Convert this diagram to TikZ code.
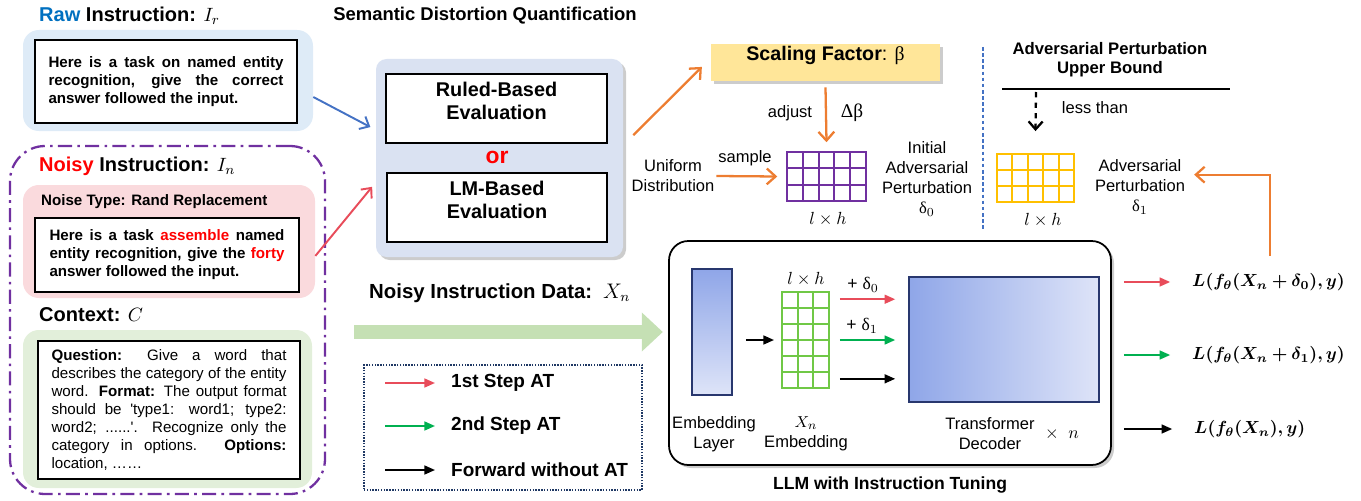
\documentclass[tikz,border=0pt]{standalone}
\usepackage{fontspec}
\setmainfont{Liberation Sans}
\newfontfamily\greekserif{Liberation Serif}
\usepackage{bm}
\usetikzlibrary{arrows.meta,fit,positioning}

\definecolor{rawblue}{RGB}{0,112,192}
\definecolor{noisyred}{RGB}{255,0,0}
\definecolor{purpleline}{RGB}{112,48,160}
\definecolor{rawfill}{RGB}{222,235,247}
\definecolor{noisyfill}{RGB}{250,218,221}
\definecolor{ctxfill}{RGB}{226,239,218}
\definecolor{evalfill}{RGB}{218,226,242}
\definecolor{scalefill}{RGB}{255,230,153}
\definecolor{orangeline}{RGB}{237,125,49}
\definecolor{gridyellow}{RGB}{255,192,0}
\definecolor{gridgreen}{RGB}{112,200,70}
\definecolor{atred}{RGB}{232,76,90}
\definecolor{atgreen}{RGB}{0,176,80}
\definecolor{datagreen}{RGB}{197,224,180}
\definecolor{legendblue}{RGB}{31,56,100}
\definecolor{sepblue}{RGB}{68,114,196}
\definecolor{layerdark}{RGB}{143,166,232}
\definecolor{layerlight}{RGB}{222,228,248}
\definecolor{layerborder}{RGB}{40,55,110}

\begin{document}
\begin{tikzpicture}[x=0.02cm, y=-0.02cm,
  bg/.style={inner sep=0pt, rounded corners=9pt},
  textbox/.style={draw, fill=white, line width=1.5pt, inner sep=0pt, text width=4.7cm, align=justify,
                  execute at begin node={\hyphenpenalty=10000}},
  head/.style={anchor=west, font=\fontsize{11.4}{13}\selectfont\bfseries},
  txt/.style={align=center, inner sep=1pt, font=\fontsize{9.4}{11.3}\selectfont},
  evalbox/.style={draw, fill=white, line width=1.5pt, inner sep=0pt, align=center, font=\fontsize{11.3}{13}\selectfont\bfseries},
  orangearrow/.style={draw=orangeline, line width=1.3pt, -{Straight Barb[length=5pt,width=9pt]}},
  inarrow/.style={line width=1.1pt, -{Straight Barb[length=4.5pt,width=8pt]}},
  atarrow/.style={line width=1.1pt, -{Triangle[length=6pt,width=5pt]}},
  shadowfill/.style={fill=black, opacity=0.2, inner sep=0pt},
  gridline/.style={line width=1.1pt},
  legendtxt/.style={anchor=west, font=\fontsize{10.8}{12}\selectfont\bfseries},
  loss/.style={anchor=west, font=\fontsize{10.3}{12}\selectfont}
]
\useasboundingbox (0,0) rectangle (1361,500);

  % Raw instruction
  \node[head] (rawtitle) at (33,16) {\textcolor{rawblue}{Raw} Instruction: $I_r$};
  \node[bg, fill=rawfill, fit={(23,30) (313,131)}] (rawbg) {};
  \node[textbox, minimum width=5.24cm, minimum height=1.66cm, font=\fontsize{8.6}{10.2}\selectfont\bfseries] (rawtext) at (166,81.5)
    {Here is a task on named entity\linebreak recognition, give the correct\linebreak answer followed the input.};

  % Noisy instruction and context
  \node[bg, draw=purpleline, line width=1.3pt, rounded corners=20pt,
        dash pattern=on 8pt off 3pt on 1.5pt off 3pt, fit={(10,146) (325,494)}] (noisyframe) {};
  \node[head] (noisytitle) at (33,166) {\textcolor{noisyred}{Noisy} Instruction: $I_n$};
  \node[bg, fill=noisyfill, fit={(23,185) (315,298)}] (noisybg) {};
  \node[anchor=west, font=\fontsize{8.6}{10}\selectfont\bfseries] (noisetype) at (35,202) {Noise Type: Rand Replacement};
  \node[textbox, minimum width=5.28cm, minimum height=1.48cm, font=\fontsize{8.6}{10.2}\selectfont\bfseries] (noisytext) at (167,255)
    {Here is a task \textcolor{noisyred}{assemble} named\linebreak entity recognition, give the \textcolor{noisyred}{forty}\linebreak answer followed the input.};

  \node[head] (ctxtitle) at (33,315) {Context: $C$};
  \node[bg, fill=ctxfill, fit={(23,330) (312,488)}] (ctxbg) {};
  \node[textbox, minimum width=5.24cm, minimum height=2.76cm, font=\fontsize{8.6}{10.2}\selectfont] (ctxtext) at (169,410)
    {\textbf{Question:} Give a word that\linebreak describes the category of the entity\linebreak word. \textbf{Format:} The output format\linebreak should be \textquotesingle type1: word1; type2:\linebreak word2; ......\textquotesingle. Recognize only the\linebreak category in options. \textbf{Options:}\linebreak location, ……};

  % Semantic distortion quantification
  \node[font=\fontsize{10.5}{12}\selectfont\bfseries] (sdqtitle) at (485,16) {Semantic Distortion Quantification};
  \node[shadowfill, rounded corners=6pt, fit={(379,62) (626,260)}] (evalshadow) {};
  \node[bg, fill=evalfill, rounded corners=6pt, fit={(376,59) (623,257)}] (eval) {};
  \node[evalbox, fit={(386,74) (607,143)}] (rulebox) {Ruled-Based\\Evaluation};
  \node[font=\fontsize{13}{14}\selectfont\bfseries, text=noisyred] (or) at (497,157) {or};
  \node[evalbox, fit={(387,173) (607,242)}] (lmbox) {LM-Based\\Evaluation};

  \draw[inarrow, sepblue] ([yshift=-9.4pt]rawbg.east) -- ([xshift=-3pt, yshift=17.6pt]eval.west);
  \draw[inarrow, atred] ([yshift=-8.2pt]noisybg.east) -- ([xshift=-2pt, yshift=-16.4pt]eval.west);

  % Scaling factor and initial perturbation
  \node[shadowfill, fit={(714,47) (943,84)}] (scaleshadow) {};
  \node[inner sep=0pt, fill=scalefill, fit={(711,44) (940,81)},
        font=\fontsize{11.2}{13}\selectfont] (scale) {\textbf{Scaling Factor}: {\greekserif β}};
  \draw[orangearrow] ([xshift=5.7pt, yshift=13pt]eval.east) -- ([xshift=-5pt, yshift=-2.5pt]scale.west);

  \node[draw=purpleline, gridline, inner sep=0pt, fit={(787,152) (866,201)}] (delta0) {};
  \foreach \i in {1,...,4}
    \draw[purpleline, gridline] (787+\i*15.8,152) -- (787+\i*15.8,201);
  \foreach \j in {1,2}
    \draw[purpleline, gridline] (787,152+\j*16.33) -- (866,152+\j*16.33);
  \node[font=\fontsize{10}{12}\selectfont] (dimA) at (828,219) {$l\times h$};

  \draw[orangearrow] ([yshift=-3.4pt]scale.south) -- ([yshift=5pt]delta0.north);
  \node[txt] (adjust) at (790,113) {adjust};
  \node[txt, font=\fontsize{11}{13}\selectfont] (dbeta) at (852,113) {{\greekserif Δβ}};

  \node[txt] (uniform) at (673,176) {Uniform\\Distribution};
  \node[txt] (sample) at (745,158) {sample};
  \draw[orangearrow] (uniform.east) -- ([xshift=-5pt]delta0.west);
  \node[txt] (delta0label) at (927,179) {Initial\\Adversarial\\Perturbation\\{\greekserif δ}$_0$};

  \draw[sepblue, line width=0.8pt, dash pattern=on 2pt off 1.5pt] (983,47) -- (983,230);

  % Upper bound and second perturbation
  \node[font=\fontsize{9.5}{11}\selectfont\bfseries, align=center] (boundtitle) at (1110,60) {Adversarial Perturbation\\Upper Bound};
  \draw[line width=1.3pt] (1002,89) -- (1230,89);
  \coordinate (boundarrow) at (1036,92);
  \node[draw=gridyellow, gridline, inner sep=0pt, fit={(997,154) (1074,202)}] (delta1) {};
  \foreach \i in {1,...,4}
    \draw[gridyellow, gridline] (997+\i*15.4,154) -- (997+\i*15.4,202);
  \foreach \j in {1,2}
    \draw[gridyellow, gridline] (997,154+\j*16) -- (1074,154+\j*16);
  \node[font=\fontsize{10}{12}\selectfont] (dimB) at (1043,220) {$l\times h$};
  \draw[line width=1.3pt, dashed, -{Straight Barb[length=4.5pt,width=8pt]}] (boundarrow) -- ([yshift=12.5pt]delta1.north);
  \node[txt] (lessthan) at (1095,108) {less than};
  \node[txt] (delta1label) at (1140,187) {Adversarial\\Perturbation\\{\greekserif δ}$_1$};

  % Noisy instruction data
  \node[head, font=\fontsize{11.6}{13}\selectfont\bfseries] (datatitle) at (363,293) {Noisy Instruction Data: \,$X_n$};
  \coordinate (datastart) at (354,332);

  % LLM with instruction tuning
  \node[shadowfill, rounded corners=11pt, fit={(672,244) (1114,468)}] (llmshadow) {};
  \node[draw, line width=1pt, fill=white, rounded corners=11pt, inner sep=0pt, fit={(669,241) (1111,465)}] (llm) {};
  \draw[datagreen, line width=8.5pt, shorten >=3pt, -{Triangle[length=12pt,width=21.5pt]}] (datastart) -- (llm.west |- datastart);

  \node[draw=layerborder, line width=0.9pt, top color=layerdark, bottom color=layerlight, inner sep=0pt, fit={(692,269) (732,395)}] (emblayer) {};
  \node[draw=gridgreen, gridline, inner sep=0pt, fit={(782,292) (829,388)}] (xgrid) {};
  \foreach \i in {1,2}
    \draw[gridgreen, gridline] (782+\i*15.67,292) -- (782+\i*15.67,388);
  \foreach \j in {1,...,5}
    \draw[gridgreen, gridline] (782,292+\j*16) -- (829,292+\j*16);
  \node[draw=layerborder, line width=0.9pt, left color=layerdark, right color=layerlight, inner sep=0pt, fit={(909,277) (1099,402)}] (trans) {};

  \draw[atarrow, shorten <=7.4pt, shorten >=4pt] (emblayer.east |- xgrid.west) -- (xgrid.west);
  \node[font=\fontsize{10}{12}\selectfont] (dimC) at (806,279) {$l\times h$};
  \node[font=\fontsize{10}{12}\selectfont] (plus0) at (863,285) {+ {\greekserif δ}$_0$};
  \node[font=\fontsize{10}{12}\selectfont] (plus1) at (862,326) {+ {\greekserif δ}$_1$};
  \draw[atarrow, atred, shorten <=5.7pt, shorten >=7.4pt] ([yshift=23.2pt]xgrid.east) -- ([yshift=23.2pt]xgrid.east -| trans.west);
  \draw[atarrow, atgreen, shorten <=5.7pt, shorten >=7.4pt] (xgrid.east) -- (xgrid.east -| trans.west);
  \draw[atarrow, shorten <=5.7pt, shorten >=7.4pt] ([yshift=-22.1pt]xgrid.east) -- ([yshift=-22.1pt]xgrid.east -| trans.west);

  \node[txt] (emblabel) at (714,434) {Embedding\\Layer};
  \node[txt] (xlabel) at (806,434) {$X_n$\\Embedding};
  \node[txt] (translabel) at (990,434) {Transformer\\Decoder};
  \node[font=\fontsize{10}{12}\selectfont] (times) at (1062,434) {$\times$\ \ $n$};
  \node[font=\fontsize{10}{12}\selectfont\bfseries] (llmtitle) at (890,485) {LLM with Instruction Tuning};

  % Losses
  \node[loss] (loss1) at (1186,282) {$\bm{L(f_\theta(X_n+\delta_0),y)}$};
  \node[loss] (loss2) at (1186,355) {$\bm{L(f_\theta(X_n+\delta_1),y)}$};
  \node[loss] (loss3) at (1188,429) {$\bm{L(f_\theta(X_n),y)}$};
  \draw[atarrow, atred, shorten <=6.8pt, shorten >=9pt] (llm.east |- loss1.west) -- (loss1.west);
  \draw[atarrow, atgreen, shorten <=6.8pt, shorten >=9pt] (llm.east |- loss2.west) -- (loss2.west);
  \draw[atarrow, shorten <=6.8pt, shorten >=9pt] (llm.east |- loss3.west) -- (loss3.west);

  \coordinate (fbstart) at (1270,256);
  \draw[orangearrow] (fbstart) |- ([xshift=4pt, yshift=7pt]delta1label.east);

  % Legend
  \node[draw=legendblue, line width=0.9pt, dash pattern=on 0.8pt off 0.8pt, inner sep=0pt, fit={(364,365) (642,490)}] (legend) {};
  \coordinate (leg1a) at (385,383); \coordinate (leg1b) at (435,383);
  \coordinate (leg2a) at (385,426); \coordinate (leg2b) at (435,426);
  \coordinate (leg3a) at (385,470); \coordinate (leg3b) at (435,470);
  \draw[atarrow, atred] (leg1a) -- (leg1b);
  \draw[atarrow, atgreen] (leg2a) -- (leg2b);
  \draw[atarrow] (leg3a) -- (leg3b);
  \node[legendtxt] (leg1) at (445,383) {1st Step AT};
  \node[legendtxt] (leg2) at (445,426) {2nd Step AT};
  \node[legendtxt] (leg3) at (445,470) {Forward without AT};

\end{tikzpicture}
\end{document}
